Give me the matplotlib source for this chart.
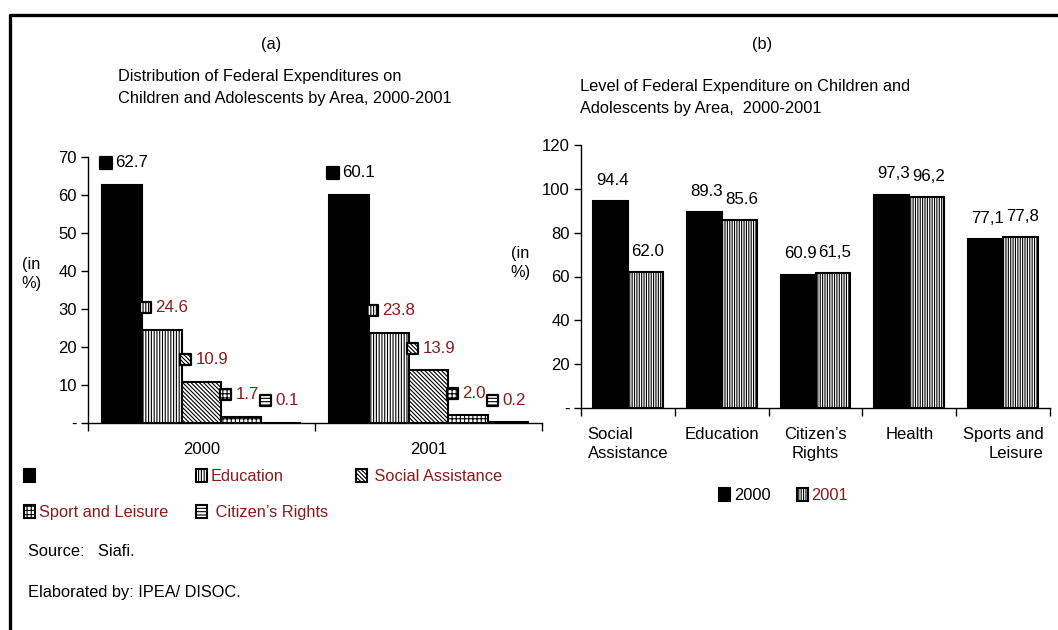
import matplotlib
matplotlib.use("Agg")
import matplotlib.pyplot as plt
from matplotlib.patches import Patch
from matplotlib.lines import Line2D
from matplotlib.transforms import offset_copy
import numpy as np

plt.rcParams['font.family'] = ['Liberation Sans', 'DejaVu Sans']
plt.rcParams['font.size'] = 11.8
plt.rcParams['hatch.linewidth'] = 0.8

RED = '#8B1A1A'

# ---- (a) distribution of federal expenditures, % ----
years = ['2000', '2001']
health_a = [62.7, 60.1]
education_a = [24.6, 23.8]
social_a = [10.9, 13.9]
sport_a = [1.7, 2.0]
rights_a = [0.1, 0.2]
names_a = ['', 'Education', ' Social Assistance', 'Sport and Leisure', ' Citizen\u2019s Rights']

# ---- (b) level of federal expenditure, % ----
areas_b = ['Social\nAssistance', 'Education', 'Citizen\u2019s\nRights', 'Health', 'Sports and\nLeisure']
level_2000 = [94.4, 89.3, 60.9, 97.3, 77.1]
level_2001 = [62.0, 85.6, 61.5, 96.2, 77.8]
text_2000 = ['94.4', '89.3', '60.9', '97,3', '77,1']
text_2001 = ['62.0', '85.6', '61,5', '96,2', '77,8']

W, H = 1058, 630
fig = plt.figure(figsize=(W / 100, H / 100), dpi=100)


def px_axes(l, t, r, b):
    return fig.add_axes([l / W, 1 - b / H, (r - l) / W, (b - t) / H])


def ftext(x, y, s, **kw):
    fig.text(x / W, 1 - y / H, s, va='center', **kw)


def style_axes(ax, ymax, step, ncat):
    ax.set_ylim(0, ymax)
    ax.set_xlim(-0.5, ncat - 0.5)
    for side in ['top', 'right']:
        ax.spines[side].set_visible(False)
    for side in ['left', 'bottom']:
        ax.spines[side].set_linewidth(1.0)
    yt = np.arange(0, ymax + 1, step)
    ax.set_yticks(yt)
    ax.set_yticklabels(['-'] + [str(v) for v in yt[1:]])
    ax.tick_params(axis='y', direction='out', length=5, width=1, pad=3, labelsize=12)
    ax.set_xticks(np.arange(ncat))
    ax.set_xticks(np.arange(ncat + 1) - 0.5, minor=True)
    ax.tick_params(axis='x', which='major', length=0, pad=14, labelsize=12)
    ax.tick_params(axis='x', which='minor', direction='out', length=6, width=1)


# ---------- chart (a) ----------
ax1 = px_axes(88, 157, 542, 423)
style_axes(ax1, 70, 10, 2)
ax1.set_xticklabels(years)

series_a = [health_a, education_a, social_a, sport_a, rights_a]
faces_a = ['black', 'white', 'white', 'white', 'white']
hatches_a = [None, '||||||', '\\\\\\\\\\\\\\\\', '++++', '-----']
label_cols = ['black', RED, RED, RED, RED]
w = 0.176
x = np.arange(len(years))
mark_tr = offset_copy(ax1.transData, fig=fig, x=4, y=22, units='dots')
text_tr = offset_copy(ax1.transData, fig=fig, x=14, y=22, units='dots')
for i, vals in enumerate(series_a):
    left = x - 2.5 * w + i * w
    ax1.bar(left, vals, width=w, align='edge', color=faces_a[i],
            edgecolor='black', linewidth=1.5, hatch=hatches_a[i])
    ax1.scatter(left, vals, marker='s', s=64, facecolors=faces_a[i],
                edgecolors='black', linewidths=1.6, hatch=hatches_a[i],
                transform=mark_tr, zorder=5, clip_on=False)
    for xl, v in zip(left, vals):
        ax1.text(xl, v, f'{v:.1f}', transform=text_tr, color=label_cols[i],
                 ha='left', va='center', fontsize=12.2)

handles_a = [Patch(facecolor=faces_a[i], edgecolor='black', linewidth=1.5,
                   hatch=hatches_a[i]) for i in range(5)]
order = [0, 3, 1, 4, 2]
leg1 = fig.legend([handles_a[k] for k in order], [names_a[k] for k in order],
                  ncol=3, loc='upper left', bbox_to_anchor=(24 / W, 1 - 469 / H),
                  frameon=False, borderpad=0, borderaxespad=0,
                  handlelength=0.7, handleheight=0.85, handletextpad=0.2,
                  columnspacing=1.7, labelspacing=1.25, fontsize=11.8)
for t in leg1.get_texts():
    t.set_color(RED)

# ---------- chart (b) ----------
ax2 = px_axes(581, 145, 1050, 408)
style_axes(ax2, 120, 20, len(areas_b))
ax2.set_xticklabels(areas_b)
for lbl, ma in zip(ax2.get_xticklabels(), ['left', 'center', 'center', 'center', 'right']):
    lbl.set_multialignment(ma)
    lbl.set_linespacing(1.3)

xb = np.arange(len(areas_b))
wb = 0.373
ax2.bar(xb - wb / 2, level_2000, width=wb, color='black', edgecolor='black', linewidth=1.5)
ax2.bar(xb + wb / 2, level_2001, width=wb, color='white', edgecolor='black',
        linewidth=1.5, hatch='|||||||')
lab_tr = offset_copy(ax2.transData, fig=fig, x=2, y=21, units='dots')
for xi, v, s in zip(xb - wb / 2, level_2000, text_2000):
    ax2.text(xi, v, s, transform=lab_tr, ha='center', va='center', fontsize=12.2)
for xi, v, s in zip(xb + wb / 2, level_2001, text_2001):
    ax2.text(xi, v, s, transform=lab_tr, ha='center', va='center', fontsize=12.2)

leg2 = fig.legend([Patch(facecolor='black', edgecolor='black', linewidth=1.5),
                   Patch(facecolor='white', edgecolor='black', linewidth=1.5, hatch='|||||||')],
                  ['2000', '2001'], ncol=2, loc='upper left',
                  bbox_to_anchor=(719 / W, 1 - 488 / H), frameon=False,
                  borderpad=0, borderaxespad=0, handlelength=0.7, handleheight=0.85,
                  handletextpad=0.2, columnspacing=1.6, fontsize=11.8)
leg2.get_texts()[1].set_color(RED)

# ---------- titles and notes ----------
ftext(271, 45, '(a)', ha='center')
ftext(118, 76, 'Distribution of Federal Expenditures on')
ftext(118, 99, 'Children and Adolescents by Area, 2000-2001')
ftext(762, 45, '(b)', ha='center')
ftext(580, 86, 'Level of Federal Expenditure on Children and')
ftext(580, 109, 'Adolescents by Area,  2000-2001')
ftext(31, 274, '(in\n%)', ha='center', linespacing=1.35)
ftext(520, 263, '(in\n%)', ha='center', linespacing=1.35)
ftext(28, 552, 'Source:   Siafi.')
ftext(28, 592, 'Elaborated by: IPEA/ DISOC.')

# outer frame (left and top edges)
fig.add_artist(Line2D([10 / W, 10 / W, 1.0], [0.0, 1 - 15 / H, 1 - 15 / H],
                      transform=fig.transFigure, color='black', linewidth=2.4))

fig.savefig('out.png', dpi=100)
